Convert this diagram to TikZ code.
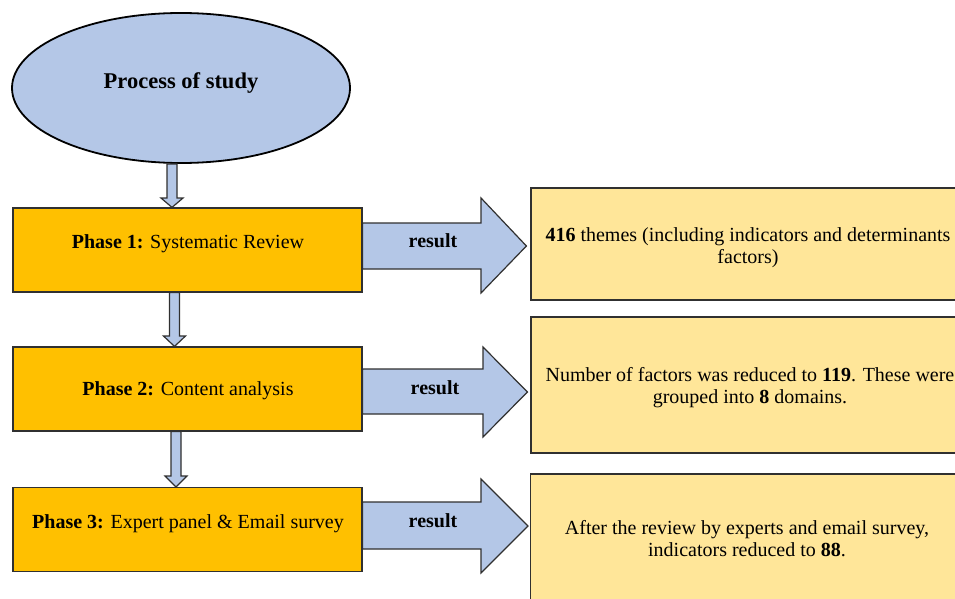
\documentclass[tikz,border=0pt]{standalone}
\usepackage{fontspec}
\setmainfont{Liberation Serif}
\usetikzlibrary{calc,shapes.geometric}
\definecolor{lblue}{HTML}{B4C7E7}
\definecolor{gold}{HTML}{FFC000}
\definecolor{lgold}{HTML}{FFE699}
\definecolor{edge}{HTML}{303030}
\begin{document}
\begin{tikzpicture}[x=1pt,y=-1pt,
  txt/.style={font=\fontsize{20}{22}\selectfont, anchor=base, inner sep=0pt},
  restext/.style={txt, align=center},
  phasebox/.style={draw=edge, line width=1.2pt, fill=gold, minimum width=349pt, minimum height=84pt, inner sep=0pt},
  resbox/.style={draw=edge, line width=1.2pt, fill=lgold, minimum width=434pt, inner sep=0pt},
  fatarrow/.style={draw=edge, line width=1.2pt, fill=lblue, line join=miter}]
\clip (0,0) rectangle (955,599);
\fill[white] (0,0) rectangle (955,599);

% start ellipse
\node[draw=black, ellipse, line width=1.8pt, fill=lblue, minimum width=338pt, minimum height=150pt, inner sep=0pt] (e) at (181,88) {};
\node[txt, font=\bfseries\fontsize{22.5}{27}\selectfont] (title) at (181,89) {Process of study};

% phase boxes
\node[phasebox] (p1) at (187.5,250) {};
\node[phasebox] (p2) at (187.5,389) {};
\node[phasebox] (p3) at (187.5,529.5) {};
\node[txt] (t1) at (188,248) {\textbf{Phase 1:} Systematic Review};
\node[txt] (t2) at (188,395) {\textbf{Phase 2:} Content analysis};
\node[txt] (t3) at (188,528) {\textbf{Phase 3:} Expert panel \& Email survey};

% result boxes
\node[resbox, minimum height=112pt] (r1) at (748,244) {};
\node[resbox, minimum height=136pt] (r2) at (748,385) {};
\node[resbox, minimum height=140pt] (r3) at (747.5,544) {};
\node[restext] (s1) at (748,263) {\textbf{416} themes (including indicators and determinants\\factors)};
\node[restext] (s2) at (750,403) {Number of factors was reduced to \textbf{119}. These were\\grouped into \textbf{8} domains.};
\node[restext] (s3) at (747,556) {After the review by experts and email survey,\\indicators reduced to \textbf{88}.};

% down arrows
\draw[fatarrow] (167,0 |- e.south) -- (167,198) -- (161,198) -- (172,0 |- p1.north) -- (183,198) -- (177,198) -- (177,0 |- e.south) -- cycle;
\draw[fatarrow] (169.5,0 |- p1.south) -- (169.5,336) -- (163.5,336) -- (174.5,0 |- p2.north) -- (185.5,336) -- (179.5,336) -- (179.5,0 |- p1.south) -- cycle;
\draw[fatarrow] (171,0 |- p2.south) -- (171,476) -- (165,476) -- (176,0 |- p3.north) -- (187,476) -- (181,476) -- (181,0 |- p2.south) -- cycle;

% result arrows
\draw[fatarrow] (p1.east |- 0,223) -- (481,223) -- (481,198) -- ($(r1.west |- 0,246)+(-4,0)$) -- (481,293) -- (481,269) -- (p1.east |- 0,269) -- cycle;
\draw[fatarrow] (p2.east |- 0,369) -- (483,369) -- (483,347) -- ($(r2.west |- 0,392)+(-3,0)$) -- (483,437) -- (483,414) -- (p2.east |- 0,414) -- cycle;
\draw[fatarrow] (p3.east |- 0,502) -- (481,502) -- (481,479) -- ($(r3.west |- 0,526)+(-2,0)$) -- (481,573) -- (481,549) -- (p3.east |- 0,549) -- cycle;
\node[txt, font=\bfseries\fontsize{20}{22}\selectfont] (l1) at (433,247) {result};
\node[txt, font=\bfseries\fontsize{20}{22}\selectfont] (l2) at (435,394) {result};
\node[txt, font=\bfseries\fontsize{20}{22}\selectfont] (l3) at (433,527) {result};
\end{tikzpicture}
\end{document}
